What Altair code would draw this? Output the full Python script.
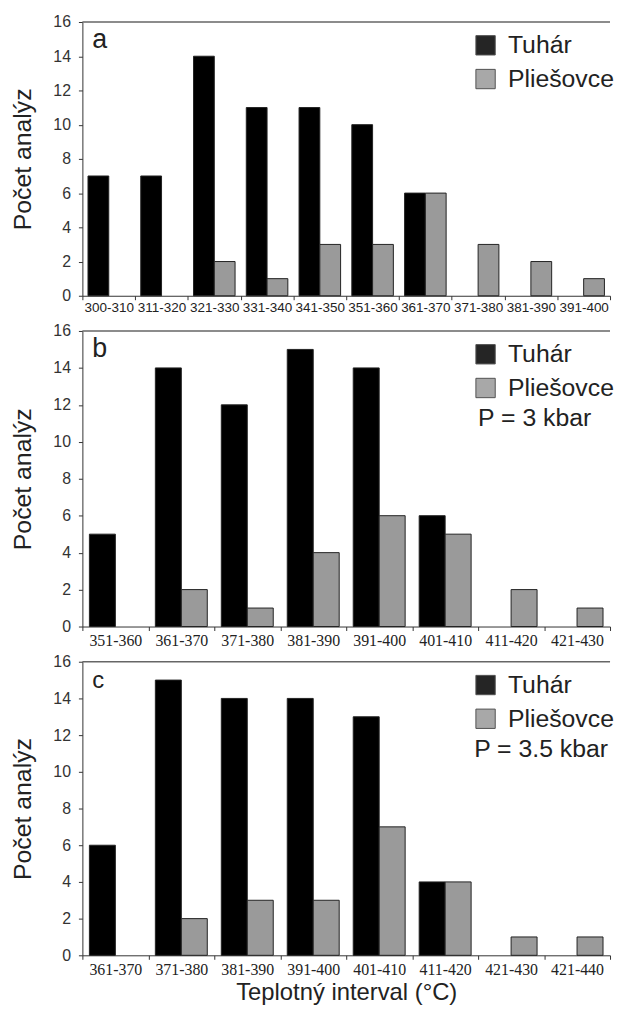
import altair as alt
import pandas as pd

series = ["Tuhár", "Pliešovce"]
colors = ["#000000", "#9a9a9a"]

cat_a = ["300-310", "311-320", "321-330", "331-340", "341-350",
         "351-360", "361-370", "371-380", "381-390", "391-400"]
tuhar_a = [7, 7, 14, 11, 11, 10, 6, 0, 0, 0]
plies_a = [0, 0, 2, 1, 3, 3, 6, 3, 2, 1]

cat_b = ["351-360", "361-370", "371-380", "381-390",
         "391-400", "401-410", "411-420", "421-430"]
tuhar_b = [5, 14, 12, 15, 14, 6, 0, 0]
plies_b = [0, 2, 1, 4, 6, 5, 2, 1]

cat_c = ["361-370", "371-380", "381-390", "391-400",
         "401-410", "411-420", "421-430", "421-440"]
tuhar_c = [6, 15, 14, 14, 13, 4, 0, 0]
plies_c = [0, 2, 3, 3, 7, 4, 1, 1]

y_ticks = [0, 2, 4, 6, 8, 10, 12, 14, 16]

W = 532
FONT = "Liberation Sans"
NARROW = "Liberation Sans Narrow"


def panel(cats, t, p, letter, note, note_x, height, lab_font, lab_size, lab_pad, x_title, letter_size):
    rows = []
    for c, a, b in zip(cats, t, p):
        rows.append({"interval": c, "serie": series[0], "n": a})
        rows.append({"interval": c, "serie": series[1], "n": b})
    df = pd.DataFrame(rows)
    df = df[df["n"] > 0]

    x_axis_kw = dict(
        labelAngle=0, tickBand="extent", tickSize=4, labelPadding=lab_pad,
        labelFont=lab_font, labelFontSize=lab_size, labelColor="#222",
        domainColor="#333", tickColor="#333", labelOverlap=False,
    )
    if x_title:
        x_axis_kw.update(title=x_title, titleFont=FONT, titleFontSize=24,
                         titleFontWeight="normal", titleColor="#222", titlePadding=3)
    else:
        x_axis_kw.update(title=None)

    bars = alt.Chart(df).mark_bar(stroke="#222", strokeWidth=1).encode(
        x=alt.X("interval:N", sort=cats,
                scale=alt.Scale(domain=cats, paddingInner=0, paddingOuter=0),
                axis=alt.Axis(**x_axis_kw)),
        xOffset=alt.XOffset("serie:N", sort=series,
                            scale=alt.Scale(domain=series, paddingInner=0, paddingOuter=0.27)),
        y=alt.Y("n:Q", scale=alt.Scale(domain=[0, 16], nice=False),
                axis=alt.Axis(values=y_ticks, title="Počet analýz", titleFont=FONT,
                              titleFontSize=25, titleFontWeight="normal", titleColor="#222",
                              titlePadding=18, labelFont=FONT, labelFontSize=16,
                              labelColor="#333", labelPadding=8, tickSize=4,
                              domainColor="#333", tickColor="#333", grid=False)),
        color=alt.Color("serie:N", sort=series,
                        scale=alt.Scale(domain=series, range=colors),
                        legend=alt.Legend(title=None, orient="none", legendX=394, legendY=11,
                                          symbolType="square", symbolSize=380,
                                          symbolStrokeColor="#333", symbolStrokeWidth=1,
                                          symbolOpacity=0.85,
                                          labelFont=FONT, labelFontSize=25, labelColor="#222",
                                          labelOffset=10, rowPadding=8, padding=0)),
    )

    top = alt.Chart(pd.DataFrame({"k": [0]})).mark_rule(color="#666", strokeWidth=1.5).encode(
        x=alt.value(0), x2=alt.value(W), y=alt.value(0)
    )

    lt = alt.Chart(pd.DataFrame({"t": [letter]})).mark_text(
        font=FONT, fontSize=letter_size, color="#222", align="left", baseline="alphabetic"
    ).encode(text="t:N", x=alt.value(10), y=alt.value(26))

    layers = [bars, top, lt]
    if note:
        nt = alt.Chart(pd.DataFrame({"t": [note]})).mark_text(
            font=FONT, fontSize=25, color="#222", align="left", baseline="alphabetic"
        ).encode(text="t:N", x=alt.value(note_x), y=alt.value(96))
        layers.append(nt)

    return alt.layer(*layers).properties(width=W, height=height)


pa = panel(cat_a, tuhar_a, plies_a, "a", None, 0, 276, FONT, 13.6, 1, None, 27)
pb = panel(cat_b, tuhar_b, plies_b, "b", "P = 3 kbar", 399, 298, NARROW, 16, 2.5, None, 27)
pc = panel(cat_c, tuhar_c, plies_c, "c", "P = 3.5 kbar", 395, 296, NARROW, 16, 2.5,
           "Teplotný interval (°C)", 24)

chart = alt.vconcat(pa, pb, pc, spacing=35.5, bounds="flush").resolve_scale(
    x="independent", xOffset="independent"
).resolve_legend(color="independent").properties(
    padding={"left": 2, "top": 2, "right": 0, "bottom": 0}
).configure_view(stroke=None)

chart.save("out.html", embed_options={"renderer": "svg", "actions": False})
